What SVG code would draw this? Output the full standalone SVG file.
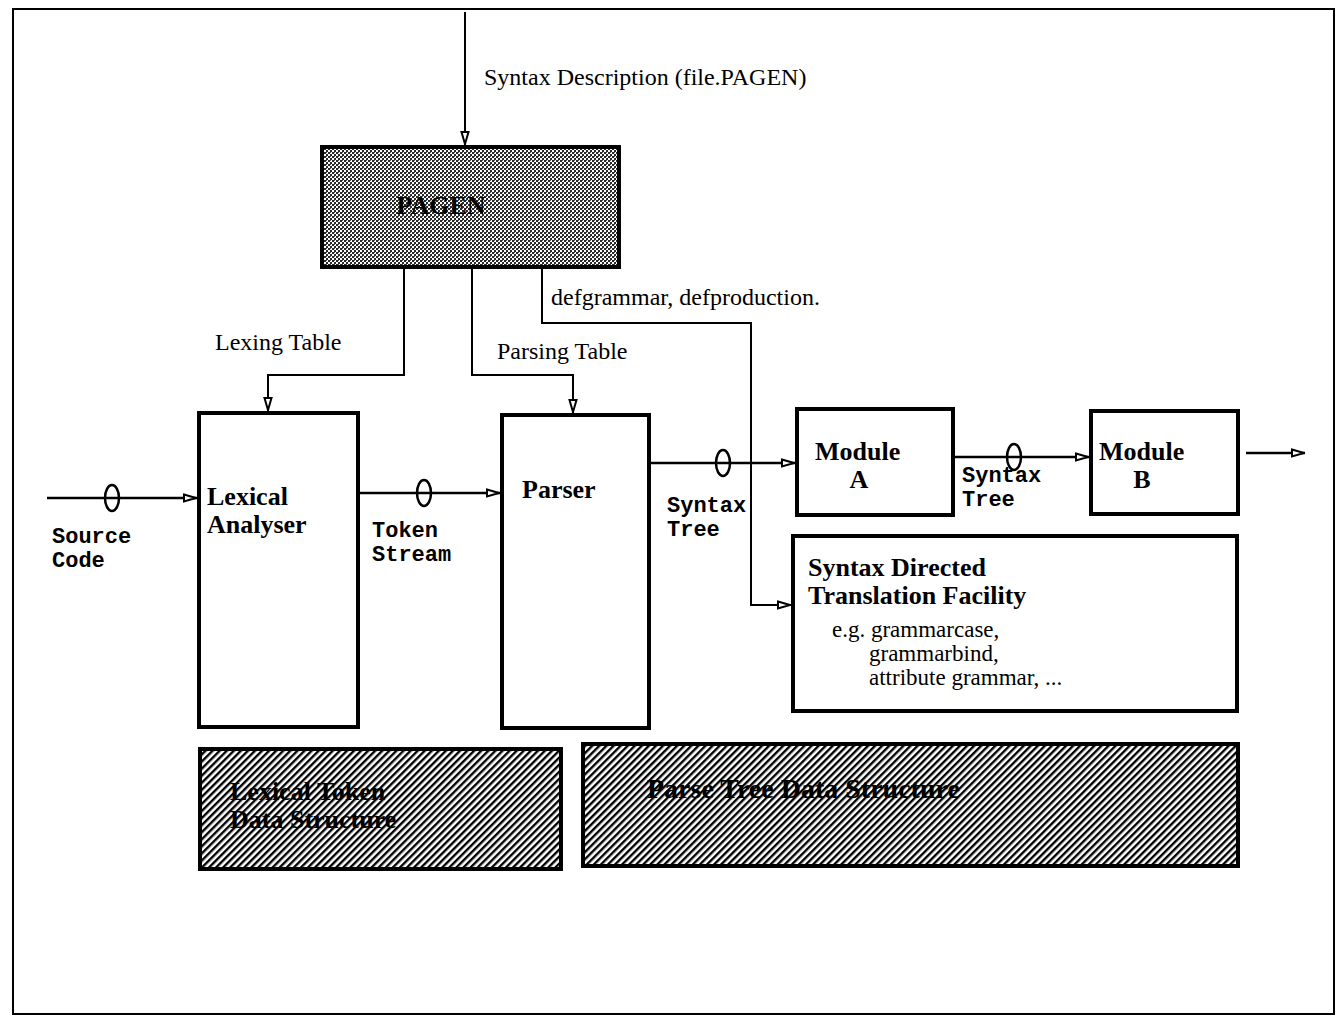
<svg xmlns="http://www.w3.org/2000/svg" width="1343" height="1020" viewBox="0 0 1343 1020">
<style>
.box{fill:#fff;stroke:#000;stroke-width:4}
.conn{fill:none;stroke:#000;stroke-width:2}
.flow{fill:none;stroke:#000;stroke-width:2.5}
.ell{fill:none;stroke:#000;stroke-width:2.5}
.t{font-family:"Liberation Serif","Times New Roman",serif;font-size:24px;fill:#000}
.s{font-family:"Liberation Serif","Times New Roman",serif;font-size:23px;fill:#000}
.b{font-family:"Liberation Serif","Times New Roman",serif;font-size:26px;font-weight:bold;fill:#000}
.m{font-family:"Liberation Mono","Courier New",monospace;font-size:22px;font-weight:bold;fill:#000}
</style>
<defs>
<pattern id="dots" width="4" height="4" patternUnits="userSpaceOnUse">
<rect width="4" height="4" fill="#fff"/>
<rect x="0" y="0" width="2" height="2" fill="#2a2a2a"/>
<rect x="2" y="2" width="2" height="2" fill="#2a2a2a"/>
<rect x="2" y="0" width="1" height="1" fill="#555"/>
</pattern>
<pattern id="hatch" width="5" height="5" patternUnits="userSpaceOnUse" patternTransform="rotate(45)">
<rect width="5" height="5" fill="#fff"/>
<rect x="0" y="0" width="2.4" height="5" fill="#000"/>
</pattern>
<marker id="arr" viewBox="0 0 14 10" refX="14" refY="5" markerWidth="14" markerHeight="10" markerUnits="userSpaceOnUse" orient="auto">
<path d="M1,1.5 L13,5 L1,8.5 Z" fill="#fff" stroke="#000" stroke-width="2"/>
</marker>
</defs>
<rect x="13" y="9" width="1321" height="1005" fill="#fff" stroke="#000" stroke-width="2"/>

<g id="connectors">
<path class="conn" d="M465 12 V145" marker-end="url(#arr)"/>
<path class="conn" d="M404 269 V375 H268 V411" marker-end="url(#arr)"/>
<path class="conn" d="M472 269 V375 H573 V413" marker-end="url(#arr)"/>
<path class="conn" d="M542 269 V323 H751 V605 H791" marker-end="url(#arr)"/>
<path class="flow" d="M47 498 H197" marker-end="url(#arr)"/>
<ellipse class="ell" cx="112" cy="498" rx="7" ry="13"/>
<path class="flow" d="M360 493 H500" marker-end="url(#arr)"/>
<ellipse class="ell" cx="424" cy="493" rx="7" ry="13"/>
<path class="flow" d="M651 463 H795" marker-end="url(#arr)"/>
<ellipse class="ell" cx="723" cy="463" rx="7" ry="13"/>
<path class="flow" d="M955 457 H1089" marker-end="url(#arr)"/>
<ellipse class="ell" cx="1014" cy="457" rx="7" ry="13"/>
<path class="flow" d="M1246 453 H1305" marker-end="url(#arr)"/>
<text class="t" x="484" y="85">Syntax Description (file.PAGEN)</text>
<text class="t" x="215" y="350">Lexing Table</text>
<text class="t" x="497" y="359">Parsing Table</text>
<text class="t" x="551" y="305">defgrammar, defproduction.</text>
<text class="m" x="52" y="543">Source</text>
<text class="m" x="52" y="567">Code</text>
<text class="m" x="372" y="537">Token</text>
<text class="m" x="372" y="561">Stream</text>
<text class="m" x="667" y="512">Syntax</text>
<text class="m" x="667" y="536">Tree</text>
<text class="m" x="962" y="482">Syntax</text>
<text class="m" x="962" y="506">Tree</text>
</g>

<g id="pagen">
<rect x="322" y="147" width="297" height="120" fill="url(#dots)" stroke="#000" stroke-width="4"/>
<text class="b" x="441" y="214" text-anchor="middle">PAGEN</text>
</g>
<g id="lexer">
<rect class="box" x="199" y="413" width="159" height="314"/>
<text class="b" x="207" y="505">Lexical</text>
<text class="b" x="207" y="533">Analyser</text>
</g>
<g id="parser">
<rect class="box" x="502" y="415" width="147" height="313"/>
<text class="b" x="522" y="498">Parser</text>
</g>
<g id="moduleA">
<rect class="box" x="797" y="409" width="156" height="106"/>
<text class="b" x="815" y="460">Module</text>
<text class="b" x="859" y="488" text-anchor="middle">A</text>
</g>
<g id="moduleB">
<rect class="box" x="1091" y="411" width="147" height="103"/>
<text class="b" x="1099" y="460">Module</text>
<text class="b" x="1142" y="488" text-anchor="middle">B</text>
</g>
<g id="sdtf">
<rect class="box" x="793" y="536" width="444" height="175"/>
<text class="b" x="808" y="576">Syntax Directed</text>
<text class="b" x="808" y="604">Translation Facility</text>
<text class="s" x="832" y="637">e.g. grammarcase,</text>
<text class="s" x="869" y="661">grammarbind,</text>
<text class="s" x="869" y="685">attribute grammar, ...</text>
</g>
<g id="lexical-token-ds">
<rect x="200" y="749" width="361" height="120" fill="url(#hatch)" stroke="#000" stroke-width="4"/>
<text class="b" x="230" y="800">Lexical Token</text>
<text class="b" x="230" y="828">Data Structure</text>
</g>
<g id="parse-tree-ds">
<rect x="583" y="744" width="655" height="122" fill="url(#hatch)" stroke="#000" stroke-width="4"/>
<text class="b" x="647" y="798" style="font-size:28px">Parse Tree Data Structure</text>
</g>
</svg>
